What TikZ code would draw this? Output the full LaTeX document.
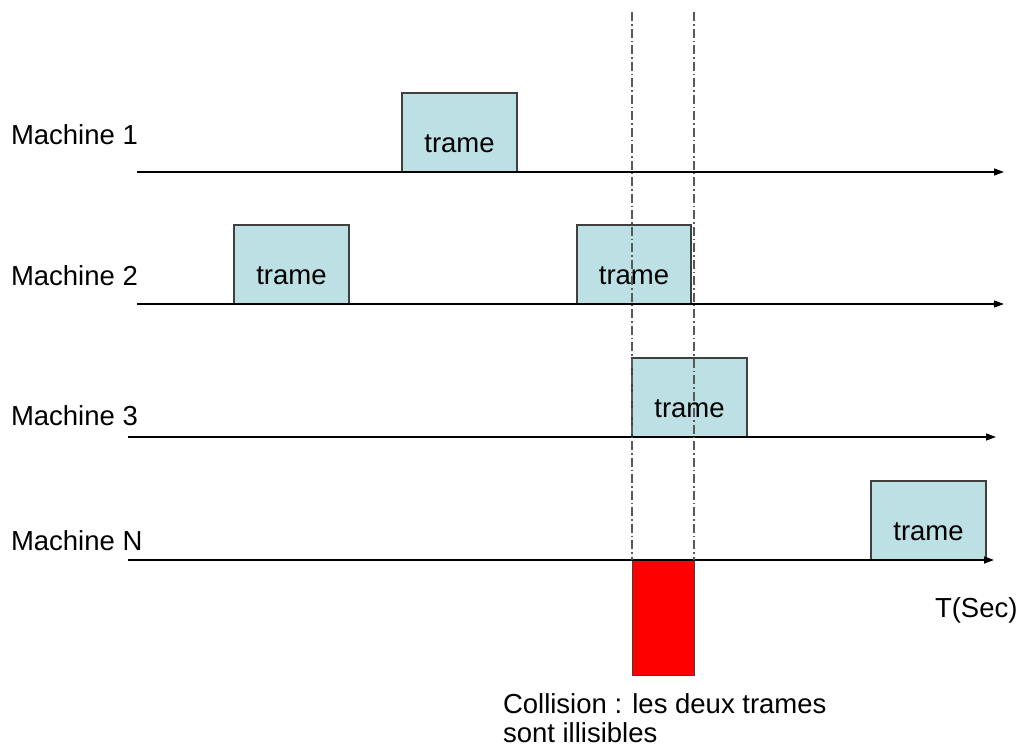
\documentclass[tikz,border=0pt]{standalone}
\usepackage{fontspec}
\setmainfont{Liberation Sans}
\usetikzlibrary{arrows.meta}
\definecolor{trameblue}{HTML}{BCE0E3}
\definecolor{boxedge}{HTML}{404040}
\begin{document}
\begin{tikzpicture}[x=1pt,y=-1pt,
  every node/.style={font=\fontsize{27.5}{33}\selectfont, inner sep=0pt, outer sep=0pt},
  axis/.style={line width=1.4pt, -{Triangle[length=10pt,width=7pt]}},
  framebox/.style={draw=boxedge, line width=1.3pt, fill=trameblue, anchor=north west,
    minimum width=115pt, minimum height=79pt},
  collisionbox/.style={draw=boxedge, line width=1pt, fill=red, anchor=north west,
    minimum width=62pt, minimum height=115pt},
  guide/.style={draw=black!65, line width=1.3pt, dash pattern=on 9pt off 3pt on 1.5pt off 3pt},
  lbl/.style={anchor=base west},
  frametext/.style={anchor=base}]
\useasboundingbox (0,0) rectangle (1021,747);

% frames (drawn first so the time lines pass over their bottom edges)
\node[framebox] (f1)  at (402,93)  {};
\node[framebox] (f2a) at (234,225) {};
\node[framebox, minimum width=114pt] (f2b) at (577,225) {};
\node[framebox] (f3)  at (632,358) {};
\node[framebox] (fN)  at (871,481) {};
\node[collisionbox] (coll) at (632,560) {};

\foreach \f in {f1,f2a,f2b,f3,fN}
  \node[frametext] at ([yshift=20pt]\f.south) {trame};

% time lines
\coordinate (s1) at (137,172); \coordinate (e1) at (1004,172);
\coordinate (s2) at (137,304); \coordinate (e2) at (1004,304);
\coordinate (s3) at (128,437); \coordinate (e3) at (996,437);
\coordinate (sN) at (128,560); \coordinate (eN) at (994,560);
\draw[axis] (s1) -- (e1);
\draw[axis] (s2) -- (e2);
\draw[axis] (s3) -- (e3);
\draw[axis] (sN) -- (eN);

% collision window guides
\coordinate (g1top) at (632,12);
\coordinate (g2top) at (694,12);
\draw[guide] (g1top) -- (coll.north west);
\draw[guide] (g2top) -- (coll.north east);

% labels
\node[lbl] (m1) at (11,144) {Machine 1};
\node[lbl] (m2) at (11,285) {Machine 2};
\node[lbl] (m3) at (11,425) {Machine 3};
\node[lbl] (mN) at (11,550) {Machine N};
\node[lbl] (t)  at (935,617) {T(Sec)};
\node[lbl] (c1) at (503,713) {Collision : les deux trames};
\node[lbl] (c2) at (503,742) {sont illisibles};
\end{tikzpicture}
\end{document}
